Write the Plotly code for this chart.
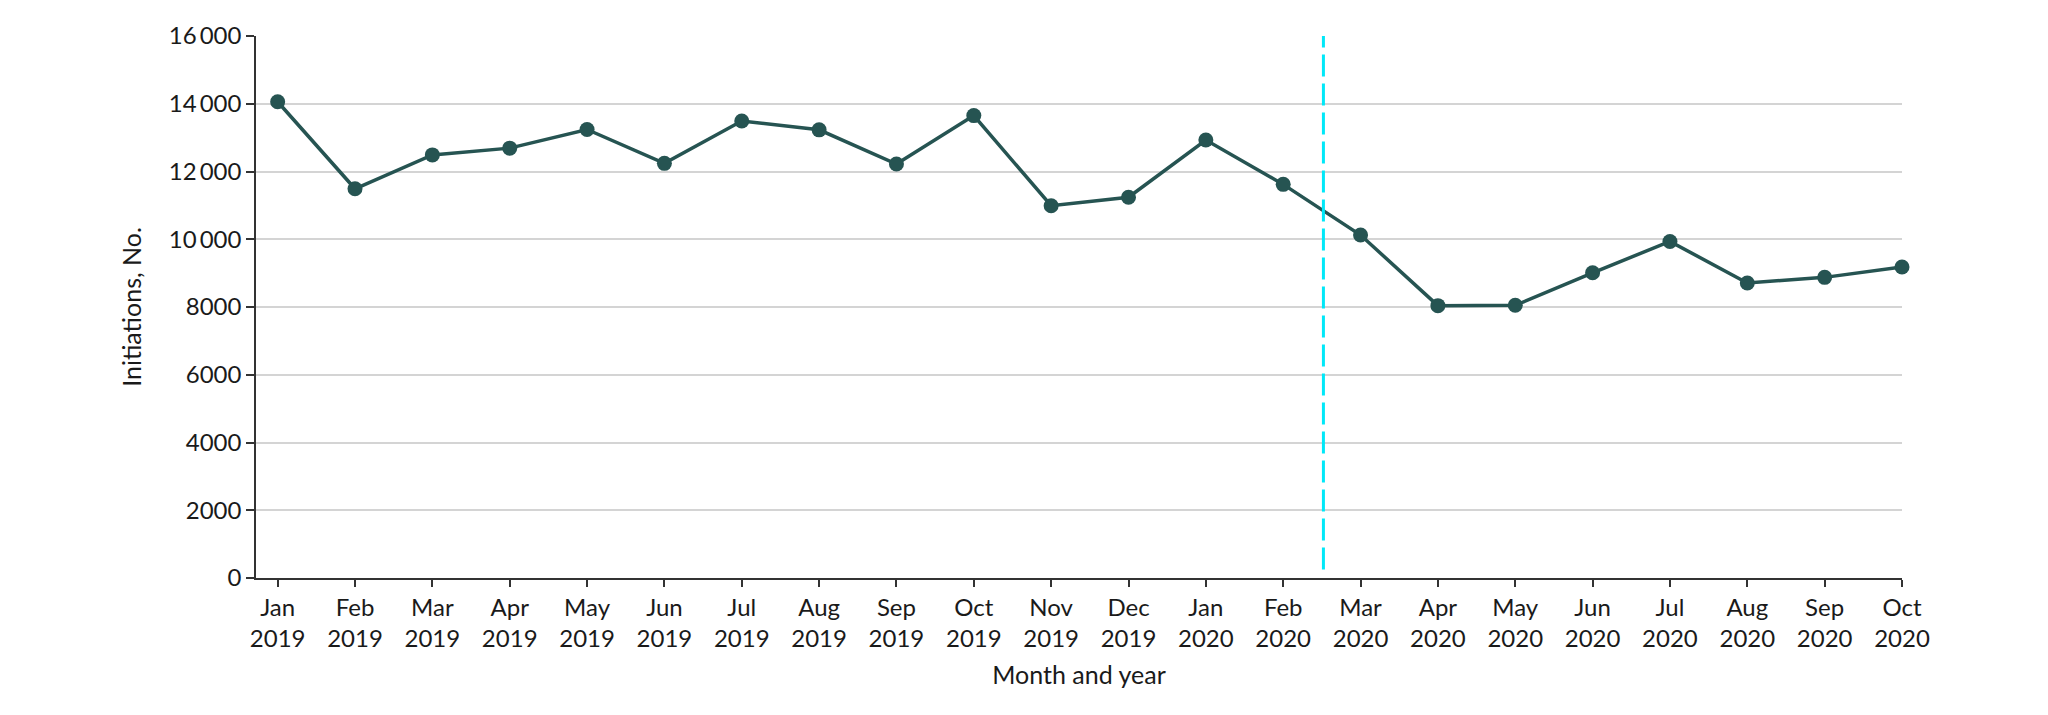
import plotly.graph_objects as go

months = ["Jan", "Feb", "Mar", "Apr", "May", "Jun", "Jul", "Aug", "Sep", "Oct", "Nov", "Dec",
          "Jan", "Feb", "Mar", "Apr", "May", "Jun", "Jul", "Aug", "Sep", "Oct"]
years = ["2019"] * 12 + ["2020"] * 10
initiations = [14060, 11490, 12490, 12690, 13240, 12240, 13490, 13230, 12220, 13650, 10990, 11240,
               12930, 11620, 10125, 8040, 8050, 9010, 9935, 8710, 8875, 9180]
y_tick_vals = [0, 2000, 4000, 6000, 8000, 10000, 12000, 14000, 16000]
y_tick_text = ["0", "2000", "4000", "6000", "8000", "10\u2009000", "12\u2009000", "14\u2009000", "16\u2009000"]
pandemic_onset_index = 13.52

x_idx = list(range(len(months)))
x_labels = [f"{m}<br>{y}" for m, y in zip(months, years)]

FONT = "Lato"
FS = 24
fig = go.Figure()
fig.add_trace(go.Scatter(
    x=x_idx, y=initiations, mode="lines+markers",
    line=dict(color="#265452", width=3.5),
    marker=dict(color="#265452", size=15),
    cliponaxis=False, showlegend=False,
))

fig.add_shape(type="line", xref="x", yref="y",
              x0=pandemic_onset_index, x1=pandemic_onset_index, y0=250, y1=16000,
              line=dict(color="#00E8F8", width=3, dash="22px,7px"))

fig.update_layout(
    width=2032, height=699,
    margin=dict(l=248, r=138, t=28, b=129),
    paper_bgcolor="white", plot_bgcolor="white",
    font=dict(family=FONT, size=FS, color="#1a1a1a"),
)
fig.update_xaxes(
    range=[-0.28, 21], tickmode="array", tickvals=x_idx, ticktext=x_labels,
    showgrid=False, zeroline=False,
    showline=True, linecolor="#333333", linewidth=1.5,
    ticks="outside", ticklen=7, tickwidth=1.5, tickcolor="#333333",
    tickfont=dict(family=FONT, size=FS, color="#1a1a1a"),
    title=dict(text="Month and year", font=dict(family=FONT, size=25, color="#1a1a1a"), standoff=16),
)
fig.update_yaxes(
    range=[0, 16000], tickmode="array", tickvals=y_tick_vals, ticktext=y_tick_text,
    showgrid=True, gridcolor="#d4d4d4", gridwidth=2, zeroline=False,
    showline=True, linecolor="#333333", linewidth=1.5,
    ticks="outside", ticklen=8, tickwidth=1.5, tickcolor="#333333",
    tickfont=dict(family=FONT, size=FS, color="#1a1a1a"),
    title=dict(text="Initiations, No.", font=dict(family=FONT, size=25, color="#1a1a1a"), standoff=20),
)

fig.write_html("out.html")
